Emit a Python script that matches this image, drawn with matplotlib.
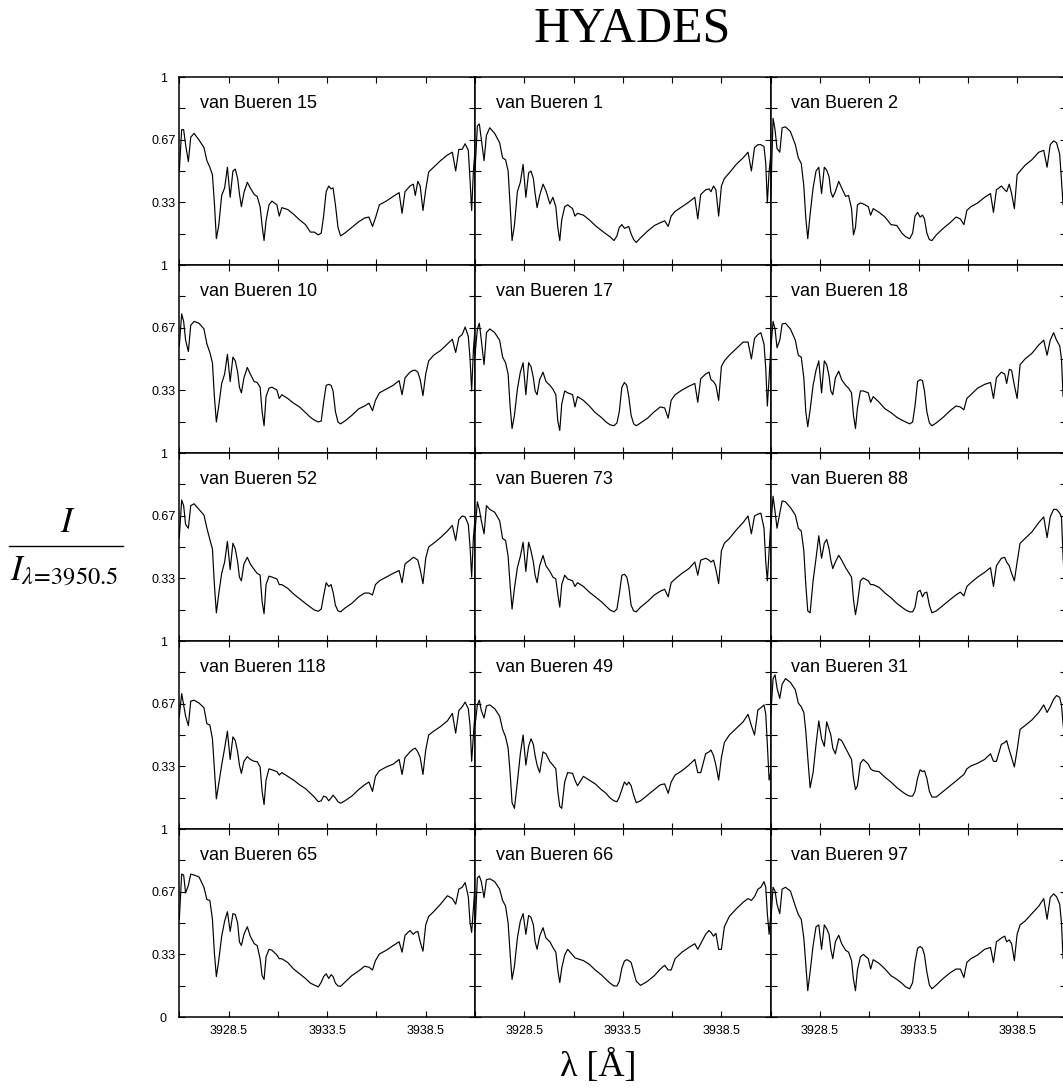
import numpy as np
import matplotlib
matplotlib.use("Agg")
import matplotlib.pyplot as plt
from matplotlib.lines import Line2D

plt.rcParams['font.family'] = ['Liberation Sans', 'DejaVu Sans']
plt.rcParams['mathtext.fontset'] = 'stix'

# wavelength grid (Angstrom), same for every star
wave = [
    3926.00, 3926.12, 3926.22, 3926.32, 3926.46, 3926.58, 3926.75, 3927.00, 3927.25, 3927.40,
    3927.55, 3927.68, 3927.78, 3927.88, 3928.00, 3928.15, 3928.30, 3928.44, 3928.58, 3928.72,
    3928.84, 3928.96, 3929.05, 3929.15, 3929.28, 3929.45, 3929.60, 3929.80, 3929.95, 3930.10,
    3930.20, 3930.30, 3930.40, 3930.55, 3930.70, 3930.95, 3931.07, 3931.20, 3931.50, 3931.80,
    3932.10, 3932.40, 3932.65, 3932.85, 3933.05, 3933.20, 3933.32, 3933.45, 3933.58, 3933.70,
    3933.80, 3933.92, 3934.05, 3934.18, 3934.40, 3934.75, 3935.10, 3935.40, 3935.62, 3935.80,
    3935.95, 3936.15, 3936.50, 3936.85, 3937.15, 3937.30, 3937.45, 3937.70, 3937.87, 3937.97,
    3938.10, 3938.22, 3938.36, 3938.50, 3938.65, 3938.90, 3939.25, 3939.60, 3939.85, 3940.02,
    3940.18, 3940.35, 3940.50, 3940.66, 3940.75, 3940.83, 3940.92, 3941.00,
]

# normalised intensity I / I(3950.5)
vb15 = [0.50, 0.72, 0.72, 0.64, 0.55, 0.68, 0.70, 0.665, 0.625, 0.555,
        0.52, 0.48, 0.33, 0.14, 0.21, 0.37, 0.41, 0.52, 0.36, 0.50,
        0.51, 0.46, 0.38, 0.31, 0.385, 0.44, 0.41, 0.375, 0.365, 0.31,
        0.21, 0.13, 0.235, 0.32, 0.34, 0.32, 0.26, 0.305, 0.295, 0.27,
        0.24, 0.215, 0.175, 0.175, 0.16, 0.17, 0.26, 0.39, 0.42, 0.405,
        0.41, 0.32, 0.20, 0.155, 0.17, 0.20, 0.23, 0.25, 0.255, 0.205,
        0.25, 0.32, 0.34, 0.365, 0.385, 0.275, 0.39, 0.42, 0.43, 0.37,
        0.445, 0.42, 0.29, 0.40, 0.495, 0.52, 0.555, 0.585, 0.60, 0.50,
        0.615, 0.615, 0.645, 0.61, 0.45, 0.29, 0.50, 0.61]
vb1 = [0.50, 0.74, 0.75, 0.67, 0.555, 0.69, 0.73, 0.70, 0.65, 0.57,
       0.56, 0.50, 0.32, 0.13, 0.21, 0.39, 0.44, 0.535, 0.36, 0.49,
       0.50, 0.46, 0.38, 0.305, 0.37, 0.43, 0.395, 0.325, 0.36, 0.31,
       0.20, 0.13, 0.24, 0.31, 0.32, 0.30, 0.26, 0.275, 0.265, 0.24,
       0.21, 0.185, 0.165, 0.15, 0.13, 0.155, 0.20, 0.215, 0.195, 0.20,
       0.205, 0.165, 0.135, 0.12, 0.145, 0.18, 0.21, 0.225, 0.235, 0.205,
       0.26, 0.285, 0.31, 0.335, 0.36, 0.245, 0.375, 0.40, 0.405, 0.39,
       0.42, 0.40, 0.26, 0.42, 0.46, 0.49, 0.535, 0.57, 0.60, 0.50,
       0.625, 0.64, 0.64, 0.63, 0.54, 0.33, 0.50, 0.58]
vb2 = [0.35, 0.78, 0.72, 0.62, 0.60, 0.73, 0.735, 0.71, 0.64, 0.57,
       0.54, 0.42, 0.25, 0.14, 0.27, 0.41, 0.50, 0.52, 0.38, 0.52,
       0.505, 0.47, 0.39, 0.36, 0.39, 0.445, 0.41, 0.365, 0.37, 0.30,
       0.16, 0.20, 0.32, 0.33, 0.325, 0.31, 0.265, 0.30, 0.28, 0.255,
       0.215, 0.21, 0.17, 0.15, 0.14, 0.17, 0.26, 0.28, 0.255, 0.265,
       0.245, 0.17, 0.135, 0.13, 0.16, 0.195, 0.225, 0.255, 0.245, 0.215,
       0.29, 0.31, 0.33, 0.36, 0.38, 0.28, 0.40, 0.42, 0.40, 0.39,
       0.43, 0.38, 0.30, 0.48, 0.50, 0.53, 0.56, 0.60, 0.61, 0.52,
       0.64, 0.66, 0.65, 0.59, 0.45, 0.32, 0.45, 0.55]
vb10 = [0.57, 0.74, 0.70, 0.60, 0.54, 0.68, 0.70, 0.69, 0.66, 0.58,
        0.535, 0.48, 0.30, 0.165, 0.25, 0.37, 0.42, 0.525, 0.38, 0.51,
        0.49, 0.43, 0.35, 0.32, 0.40, 0.455, 0.42, 0.38, 0.375, 0.35,
        0.22, 0.145, 0.30, 0.345, 0.35, 0.335, 0.29, 0.31, 0.29, 0.265,
        0.245, 0.215, 0.19, 0.175, 0.165, 0.17, 0.27, 0.36, 0.365, 0.36,
        0.33, 0.22, 0.165, 0.155, 0.17, 0.20, 0.235, 0.25, 0.265, 0.225,
        0.28, 0.32, 0.34, 0.36, 0.385, 0.31, 0.40, 0.43, 0.44, 0.44,
        0.43, 0.39, 0.305, 0.42, 0.49, 0.52, 0.545, 0.58, 0.605, 0.535,
        0.615, 0.63, 0.67, 0.62, 0.50, 0.33, 0.55, 0.66]
vb17 = [0.52, 0.66, 0.69, 0.60, 0.47, 0.64, 0.66, 0.64, 0.60, 0.51,
        0.48, 0.42, 0.25, 0.13, 0.20, 0.34, 0.43, 0.48, 0.31, 0.48,
        0.46, 0.40, 0.33, 0.31, 0.39, 0.43, 0.38, 0.36, 0.34, 0.31,
        0.17, 0.12, 0.26, 0.33, 0.32, 0.31, 0.245, 0.30, 0.28, 0.25,
        0.215, 0.19, 0.165, 0.15, 0.145, 0.16, 0.22, 0.35, 0.375, 0.36,
        0.30, 0.20, 0.155, 0.145, 0.16, 0.185, 0.22, 0.245, 0.24, 0.185,
        0.28, 0.31, 0.335, 0.355, 0.37, 0.27, 0.395, 0.42, 0.43, 0.39,
        0.38, 0.36, 0.28, 0.46, 0.49, 0.52, 0.555, 0.59, 0.59, 0.50,
        0.61, 0.63, 0.64, 0.58, 0.45, 0.25, 0.40, 0.55]
vb18 = [0.55, 0.70, 0.66, 0.56, 0.60, 0.686, 0.69, 0.66, 0.60, 0.52,
        0.51, 0.40, 0.22, 0.14, 0.23, 0.36, 0.44, 0.49, 0.32, 0.49,
        0.47, 0.41, 0.33, 0.31, 0.40, 0.435, 0.39, 0.36, 0.345, 0.32,
        0.20, 0.13, 0.24, 0.33, 0.33, 0.32, 0.27, 0.30, 0.27, 0.235,
        0.215, 0.19, 0.175, 0.165, 0.155, 0.165, 0.25, 0.38, 0.39, 0.385,
        0.33, 0.22, 0.16, 0.145, 0.16, 0.19, 0.225, 0.25, 0.245, 0.23,
        0.29, 0.31, 0.345, 0.365, 0.375, 0.29, 0.40, 0.43, 0.42, 0.37,
        0.445, 0.44, 0.36, 0.29, 0.47, 0.50, 0.53, 0.575, 0.60, 0.52,
        0.60, 0.64, 0.60, 0.57, 0.50, 0.30, 0.42, 0.55]
vb52 = [0.55, 0.75, 0.72, 0.62, 0.60, 0.72, 0.73, 0.70, 0.67, 0.60,
        0.54, 0.49, 0.30, 0.15, 0.25, 0.36, 0.42, 0.53, 0.38, 0.52,
        0.49, 0.42, 0.34, 0.32, 0.41, 0.445, 0.41, 0.38, 0.36, 0.35,
        0.21, 0.145, 0.30, 0.345, 0.34, 0.33, 0.30, 0.30, 0.28, 0.25,
        0.225, 0.20, 0.18, 0.165, 0.158, 0.17, 0.24, 0.31, 0.29, 0.30,
        0.26, 0.19, 0.16, 0.155, 0.175, 0.20, 0.235, 0.255, 0.255, 0.245,
        0.30, 0.32, 0.34, 0.36, 0.375, 0.31, 0.41, 0.43, 0.445, 0.44,
        0.43, 0.38, 0.305, 0.44, 0.50, 0.52, 0.55, 0.585, 0.615, 0.535,
        0.645, 0.665, 0.66, 0.62, 0.50, 0.34, 0.55, 0.65]
vb73 = [0.58, 0.74, 0.70, 0.64, 0.57, 0.72, 0.70, 0.685, 0.64, 0.545,
        0.535, 0.45, 0.30, 0.17, 0.28, 0.39, 0.45, 0.525, 0.37, 0.525,
        0.48, 0.42, 0.35, 0.31, 0.40, 0.455, 0.40, 0.37, 0.34, 0.33,
        0.25, 0.18, 0.30, 0.35, 0.33, 0.32, 0.29, 0.31, 0.29, 0.26,
        0.235, 0.21, 0.185, 0.165, 0.155, 0.17, 0.25, 0.35, 0.355, 0.34,
        0.29, 0.19, 0.16, 0.155, 0.18, 0.21, 0.245, 0.265, 0.275, 0.235,
        0.31, 0.33, 0.36, 0.385, 0.42, 0.35, 0.43, 0.44, 0.43, 0.42,
        0.43, 0.38, 0.305, 0.48, 0.52, 0.545, 0.59, 0.63, 0.665, 0.57,
        0.665, 0.675, 0.68, 0.60, 0.42, 0.32, 0.48, 0.62]
vb88 = [0.60, 0.77, 0.69, 0.60, 0.68, 0.745, 0.74, 0.71, 0.67, 0.60,
        0.585, 0.48, 0.30, 0.16, 0.15, 0.32, 0.44, 0.56, 0.44, 0.52,
        0.54, 0.49, 0.43, 0.385, 0.42, 0.456, 0.43, 0.39, 0.365, 0.34,
        0.22, 0.14, 0.20, 0.32, 0.335, 0.32, 0.30, 0.30, 0.285, 0.255,
        0.23, 0.20, 0.18, 0.165, 0.155, 0.155, 0.18, 0.26, 0.27, 0.235,
        0.255, 0.26, 0.19, 0.15, 0.16, 0.19, 0.22, 0.245, 0.26, 0.24,
        0.29, 0.31, 0.34, 0.365, 0.39, 0.29, 0.40, 0.44, 0.445, 0.42,
        0.40, 0.36, 0.32, 0.42, 0.52, 0.545, 0.58, 0.63, 0.66, 0.55,
        0.66, 0.70, 0.70, 0.68, 0.66, 0.45, 0.29, 0.40]
vb118 = [0.60, 0.72, 0.66, 0.60, 0.55, 0.68, 0.685, 0.67, 0.645, 0.56,
         0.553, 0.48, 0.32, 0.16, 0.24, 0.34, 0.43, 0.52, 0.37, 0.49,
         0.47, 0.41, 0.34, 0.296, 0.36, 0.385, 0.37, 0.36, 0.358, 0.33,
         0.20, 0.13, 0.26, 0.32, 0.315, 0.305, 0.287, 0.30, 0.28, 0.26,
         0.235, 0.215, 0.19, 0.17, 0.145, 0.15, 0.175, 0.17, 0.15, 0.165,
         0.18, 0.165, 0.145, 0.137, 0.15, 0.175, 0.21, 0.235, 0.25, 0.20,
         0.28, 0.31, 0.33, 0.345, 0.37, 0.29, 0.38, 0.41, 0.425, 0.43,
         0.41, 0.38, 0.29, 0.42, 0.50, 0.52, 0.545, 0.575, 0.615, 0.51,
         0.63, 0.65, 0.675, 0.64, 0.55, 0.36, 0.50, 0.62]
vb49 = [0.55, 0.66, 0.685, 0.63, 0.59, 0.655, 0.66, 0.64, 0.60, 0.53,
        0.49, 0.43, 0.30, 0.14, 0.11, 0.25, 0.40, 0.50, 0.34, 0.44,
        0.48, 0.45, 0.39, 0.34, 0.30, 0.41, 0.40, 0.358, 0.34, 0.32,
        0.20, 0.12, 0.11, 0.25, 0.30, 0.296, 0.26, 0.23, 0.28, 0.26,
        0.24, 0.21, 0.19, 0.165, 0.15, 0.145, 0.17, 0.21, 0.25, 0.234,
        0.25, 0.23, 0.18, 0.14, 0.15, 0.18, 0.21, 0.235, 0.24, 0.19,
        0.25, 0.287, 0.31, 0.34, 0.37, 0.30, 0.30, 0.40, 0.41, 0.42,
        0.39, 0.34, 0.26, 0.38, 0.46, 0.50, 0.535, 0.57, 0.61, 0.55,
        0.50, 0.633, 0.645, 0.66, 0.61, 0.45, 0.26, 0.30]
vb31 = [0.60, 0.80, 0.82, 0.75, 0.695, 0.77, 0.80, 0.78, 0.74, 0.67,
        0.65, 0.62, 0.52, 0.38, 0.22, 0.30, 0.45, 0.575, 0.48, 0.44,
        0.57, 0.53, 0.50, 0.43, 0.40, 0.48, 0.47, 0.43, 0.40, 0.37,
        0.27, 0.21, 0.23, 0.35, 0.37, 0.345, 0.32, 0.31, 0.305, 0.275,
        0.25, 0.22, 0.20, 0.185, 0.175, 0.175, 0.20, 0.27, 0.315, 0.305,
        0.31, 0.27, 0.20, 0.17, 0.17, 0.20, 0.23, 0.255, 0.275, 0.29,
        0.32, 0.335, 0.35, 0.37, 0.40, 0.36, 0.36, 0.45, 0.46, 0.47,
        0.42, 0.38, 0.33, 0.42, 0.53, 0.55, 0.58, 0.62, 0.66, 0.62,
        0.65, 0.69, 0.71, 0.70, 0.66, 0.56, 0.465, 0.40]
vb65 = [0.52, 0.76, 0.755, 0.66, 0.70, 0.76, 0.755, 0.745, 0.69, 0.625,
        0.62, 0.52, 0.34, 0.215, 0.30, 0.43, 0.51, 0.56, 0.455, 0.55,
        0.545, 0.50, 0.40, 0.38, 0.44, 0.48, 0.43, 0.39, 0.38, 0.31,
        0.22, 0.20, 0.32, 0.36, 0.355, 0.33, 0.31, 0.31, 0.29, 0.255,
        0.23, 0.205, 0.18, 0.17, 0.16, 0.185, 0.215, 0.23, 0.205, 0.225,
        0.215, 0.18, 0.165, 0.163, 0.185, 0.22, 0.245, 0.27, 0.265, 0.25,
        0.30, 0.335, 0.355, 0.38, 0.40, 0.345, 0.435, 0.46, 0.44, 0.45,
        0.455, 0.40, 0.35, 0.49, 0.535, 0.56, 0.60, 0.645, 0.63, 0.60,
        0.68, 0.69, 0.715, 0.64, 0.50, 0.45, 0.58, 0.70]
vb66 = [0.46, 0.74, 0.75, 0.72, 0.635, 0.73, 0.735, 0.72, 0.68, 0.62,
        0.59, 0.50, 0.34, 0.20, 0.27, 0.42, 0.51, 0.55, 0.44, 0.54,
        0.53, 0.49, 0.40, 0.36, 0.43, 0.475, 0.42, 0.40, 0.37, 0.345,
        0.25, 0.183, 0.26, 0.33, 0.36, 0.33, 0.315, 0.31, 0.30, 0.28,
        0.25, 0.225, 0.20, 0.18, 0.165, 0.165, 0.19, 0.26, 0.298, 0.305,
        0.30, 0.29, 0.24, 0.19, 0.168, 0.19, 0.22, 0.255, 0.275, 0.25,
        0.25, 0.31, 0.345, 0.37, 0.39, 0.36, 0.39, 0.44, 0.46, 0.45,
        0.43, 0.445, 0.36, 0.36, 0.48, 0.535, 0.575, 0.61, 0.63, 0.62,
        0.64, 0.68, 0.69, 0.72, 0.69, 0.55, 0.44, 0.54]
vb97 = [0.50, 0.69, 0.67, 0.60, 0.55, 0.68, 0.69, 0.67, 0.59, 0.545,
        0.52, 0.42, 0.28, 0.14, 0.24, 0.38, 0.48, 0.49, 0.36, 0.49,
        0.47, 0.44, 0.36, 0.31, 0.40, 0.435, 0.39, 0.355, 0.345, 0.30,
        0.20, 0.14, 0.25, 0.32, 0.333, 0.31, 0.255, 0.305, 0.285, 0.255,
        0.22, 0.20, 0.18, 0.16, 0.15, 0.183, 0.29, 0.365, 0.375, 0.365,
        0.33, 0.24, 0.17, 0.15, 0.17, 0.205, 0.235, 0.255, 0.255, 0.21,
        0.29, 0.31, 0.33, 0.36, 0.37, 0.29, 0.40, 0.42, 0.43, 0.40,
        0.41, 0.39, 0.30, 0.44, 0.49, 0.51, 0.55, 0.59, 0.63, 0.52,
        0.635, 0.655, 0.64, 0.60, 0.50, 0.31, 0.45, 0.55]

names = ['van Bueren 15', 'van Bueren 1', 'van Bueren 2',
         'van Bueren 10', 'van Bueren 17', 'van Bueren 18',
         'van Bueren 52', 'van Bueren 73', 'van Bueren 88',
         'van Bueren 118', 'van Bueren 49', 'van Bueren 31',
         'van Bueren 65', 'van Bueren 66', 'van Bueren 97']
spectra = [vb15, vb1, vb2, vb10, vb17, vb18, vb52, vb73, vb88,
           vb118, vb49, vb31, vb65, vb66, vb97]

xticks = [3926.0, 3928.5, 3931.0, 3933.5, 3936.0, 3938.5, 3941.0]
xticklabels = ['', '3928.5', '', '3933.5', '', '3938.5', '']
yticks = [0, 1/6, 1/3, 0.5, 2/3, 5/6, 1]

W, H = 1063, 1092
fig = plt.figure(figsize=(W / 100, H / 100), dpi=100)

# panel geometry in pixels (third column runs past the right edge)
col_left = [179.3, 475.0, 770.7]
row_top = [77, 265, 453, 641, 829]
pw, ph = 295.7, 188

for i, (name, flux) in enumerate(zip(names, spectra)):
    r, c = divmod(i, 3)
    ax = fig.add_axes([col_left[c] / W, 1 - (row_top[r] + ph) / H, pw / W, ph / H])
    ax.plot(wave, flux, color='black', lw=0.85)
    ax.set_xlim(3926, 3941)
    ax.set_ylim(0, 1)

    ax.set_xticks(xticks)
    if r == 4:
        ax.set_xticklabels(xticklabels)
    else:
        ax.set_xticklabels([''] * len(xticks))

    ax.set_yticks(yticks)
    if c == 0:
        ylabs = ['0' if r == 4 else '', '', '0.33', '', '0.67', '', '1']
        ax.set_yticklabels(ylabs)
        for lab in ax.get_yticklabels():
            lab.set_ha('center')
    else:
        ax.set_yticklabels([''] * len(yticks))

    ax.tick_params(direction='in', top=True, right=True, length=4, width=0.8,
                   labelsize=9)
    ax.tick_params(axis='y', pad=11.5)
    ax.tick_params(axis='x', pad=6)
    for sp in ax.spines.values():
        sp.set_linewidth(1.1)

    ax.text(0.07, 0.86, name, transform=ax.transAxes, fontsize=13,
            ha='left', va='center')

# title and axis labels
fig.text(632 / W, 1 - 29 / H, 'HYADES', family='Liberation Serif',
         fontsize=36, ha='center', va='center')
fig.text(598 / W, 1 - 1067 / H, 'λ [Å]', family='Liberation Serif',
         fontsize=26, ha='center', va='center')

fig.text(68 / W, 1 - 522 / H, r'$I$', fontsize=25, ha='center', va='center')
fig.add_artist(Line2D([9 / W, 123 / W], [1 - 546 / H, 1 - 546 / H],
                      color='black', lw=1.0))
fig.text(64 / W, 1 - 572 / H, r'$I_{\lambda\!=\!3950.5}$', fontsize=25,
         ha='center', va='center')

fig.savefig('out.png', dpi=100)
